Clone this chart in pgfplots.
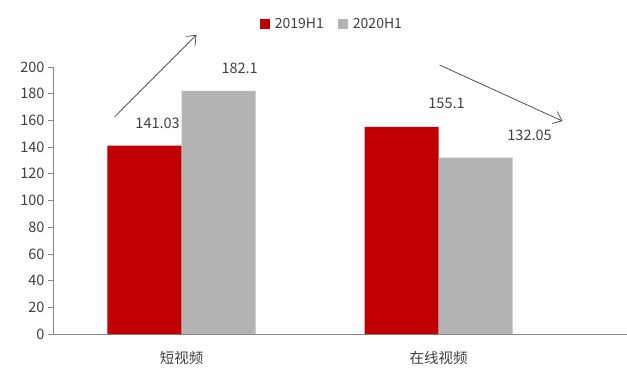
\documentclass[border=0pt]{standalone}
\usepackage{fontspec}
\setmainfont{Noto Sans CJK SC}
\usepackage{pgfplots}
\pgfplotsset{compat=1.18}
\usetikzlibrary{arrows.meta}
\definecolor{barred}{HTML}{C00000}
\definecolor{bargray}{HTML}{B4B4B4}
\definecolor{axgray}{HTML}{868686}
\definecolor{txt}{HTML}{404040}
\begin{document}
\begin{tikzpicture}[font=\fontsize{14.5}{17}\selectfont]
\begin{axis}[
  scale only axis,
  width=574pt, height=267pt,
  xmin=-0.5, xmax=1.733,
  ymin=0, ymax=200,
  ybar=0pt, bar width=0.288,
  axis x line*=bottom, axis y line*=left,
  axis line style={axgray, line width=0.8pt},
  xtick={0,1}, xticklabels={短视频,在线视频},
  x tick label style={yshift=-9pt, text=txt},
  major x tick style={draw=none},
  extra x ticks={-0.5,0.5}, extra x tick labels={},
  extra x tick style={major tick length=5pt, tick style={axgray, line width=0.8pt, draw=axgray}},
  ytick={0,20,...,200},
  y tick label style={text=txt},
  tick align=outside,
  major tick length=5pt,
  tick style={axgray, line width=0.8pt},
  /pgf/number format/assume math mode=true,
  clip=false,
  legend style={at={(0.486,1.16)}, anchor=center, draw=none, legend columns=2,
    font=\fontsize{14}{16}\selectfont, text=txt,
    /tikz/every odd column/.append style={column sep=3pt},
    /tikz/every even column/.append style={column sep=12pt}},
  legend image code/.code={\fill[#1,draw=none] (0pt,-5pt) rectangle (10pt,5pt);},
]
\addplot[fill=barred, draw=none] coordinates {(0,141.03) (1,155.1)};
\addplot[fill=bargray, draw=none] coordinates {(0,182.1) (1,132.05)};
\legend{2019H1,2020H1}
\node[text=txt] at (axis cs:-0.093,158) {141.03};
\node[text=txt] at (axis cs:0.226,199) {182.1};
\node[text=txt] at (axis cs:1.031,173) {155.1};
\node[text=txt] at (axis cs:1.354,149) {132.05};
\draw[txt, line width=0.7pt, -{Straight Barb[length=8pt,width=13pt]}] (axis cs:-0.261,162.5) -- (axis cs:0.058,224);
\draw[txt, line width=0.7pt, -{Straight Barb[length=8pt,width=13pt]}] (axis cs:1.004,201.5) -- (axis cs:1.482,159.5);
\end{axis}
\pgfresetboundingbox
\path ([shift={(-53pt,-36pt)}]current axis.south west) rectangle ([shift={(0pt,67pt)}]current axis.north east);
\end{tikzpicture}
\end{document}
